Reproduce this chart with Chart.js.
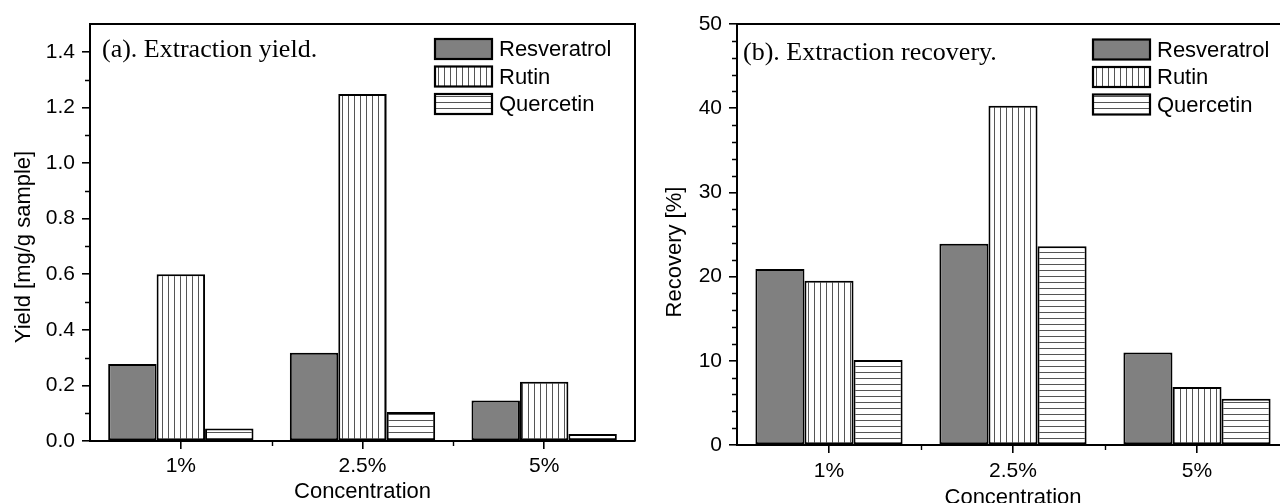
<!DOCTYPE html>
<html>
<head>
<meta charset="UTF-8">
<script src="https://cdn.jsdelivr.net/npm/chart.js@4.4.1/dist/chart.umd.min.js"></script>
<style>
 html,body{margin:0;padding:0;overflow:hidden;background:#fff}
 body{width:1280px;height:503px;position:relative}
 .pane{position:absolute;top:0}
</style>
</head>
<body>
<div class="pane" style="left:0"><canvas id="c_yield" width="640" height="505"></canvas></div>
<div class="pane" style="left:640px"><canvas id="c_recovery" width="660" height="511"></canvas></div>
<script>
// data
var categories = ['1%', '2.5%', '5%'];
var seriesNames = ['Resveratrol', 'Rutin', 'Quercetin'];

var yieldResveratrol = [0.277, 0.317, 0.146];
var yieldRutin       = [0.600, 1.248, 0.213];
var yieldQuercetin   = [0.045, 0.104, 0.025];

var recResveratrol = [20.9, 23.9, 11.0];
var recRutin       = [19.5, 40.3, 6.9];
var recQuercetin   = [10.1, 23.6, 5.5];

var yieldTicks = [0, 0.2, 0.4, 0.6, 0.8, 1.0, 1.2, 1.4];
var yieldMinor = [0.1, 0.3, 0.5, 0.7, 0.9, 1.1, 1.3];
var recTicks = [0, 10, 20, 30, 40, 50];
var recMinor = [2, 4, 6, 8, 12, 14, 16, 18, 22, 24, 26, 28, 32, 34, 36, 38, 42, 44, 46, 48];

var SANS = '"Liberation Sans", Arial, sans-serif';
var SERIF = '"Liberation Serif", "Times New Roman", serif';

function hatch(vertical) {
  var c = document.createElement('canvas');
  c.width = 6; c.height = 6;
  var g = c.getContext('2d');
  g.fillStyle = '#fff'; g.fillRect(0, 0, 6, 6);
  g.fillStyle = '#555';
  if (vertical) g.fillRect(0, 0, 1, 6); else g.fillRect(0, 0, 6, 1);
  return g.createPattern(c, 'repeat');
}
var vLines = hatch(true), hLines = hatch(false);
var fills = ['#808080', vLines, hLines];

// frame, minor ticks, note text, legend and y title
var decor = {
  id: 'decor',
  afterDraw: function (chart, args, o) {
    var ctx = chart.ctx, a = chart.chartArea, x = chart.scales.x, y = chart.scales.y;
    ctx.save();
    ctx.strokeStyle = '#000';
    ctx.lineWidth = 2;
    ctx.beginPath();
    ctx.moveTo(a.left, a.top); ctx.lineTo(a.right, a.top); ctx.lineTo(a.right, a.bottom);
    ctx.stroke();

    ctx.lineWidth = 1.4;
    ctx.beginPath();
    o.minor.forEach(function (v) {
      var py = Math.round(y.getPixelForValue(v)) + 0.5;
      ctx.moveTo(a.left - 5, py); ctx.lineTo(a.left, py);
    });
    for (var i = 0; i < categories.length - 1; i++) {
      var px = Math.round(x.getPixelForValue(i + 0.5)) + 0.5;
      ctx.moveTo(px, a.bottom); ctx.lineTo(px, a.bottom + 5);
    }
    ctx.stroke();

    ctx.fillStyle = '#000';
    ctx.font = '26px ' + SERIF;
    ctx.textAlign = 'left'; ctx.textBaseline = 'alphabetic';
    ctx.fillText(o.note, o.noteX, o.noteY);

    ctx.font = '22px ' + SANS;
    ctx.textBaseline = 'middle';
    chart.data.datasets.forEach(function (ds, k) {
      var bx = o.legX, by = o.legY + k * 27.5;
      ctx.fillStyle = ds.backgroundColor;
      ctx.fillRect(bx, by, 57, 20);
      ctx.lineWidth = 2.2;
      ctx.strokeRect(bx, by, 57, 20);
      ctx.fillStyle = '#000';
      ctx.fillText(ds.label, bx + 64, by + 11);
    });

    ctx.translate(o.titleX, o.titleY);
    ctx.rotate(-Math.PI / 2);
    ctx.textAlign = 'center';
    ctx.fillText(o.title, 0, 0);
    ctx.restore();
  }
};

function makeChart(id, cfg) {
  var sets = cfg.values.map(function (vals, k) {
    return {
      label: seriesNames[k], data: vals, backgroundColor: fills[k],
      borderColor: '#000', borderWidth: 2, borderSkipped: false,
      categoryPercentage: 0.8, barPercentage: 1
    };
  });
  return new Chart(document.getElementById(id), {
    type: 'bar',
    data: { labels: categories, datasets: sets },
    options: {
      responsive: false, animation: false, devicePixelRatio: 1,
      layout: { padding: { top: 24, right: cfg.padRight, left: 0, bottom: 0 } },
      plugins: { legend: { display: false }, tooltip: { enabled: false }, decor: cfg.decor },
      scales: {
        x: {
          grid: { offset: false, drawOnChartArea: false, tickLength: 8, tickColor: '#000', lineWidth: 1.6 },
          border: { color: '#000', width: 2 },
          ticks: { color: '#000', font: { family: SANS, size: 21 }, padding: cfg.xPad, maxRotation: 0 },
          title: { display: true, text: 'Concentration', color: '#000', font: { family: SANS, size: 22 }, padding: 0 },
          afterFit: function (s) { s.height = cfg.xH; }
        },
        y: {
          min: 0, max: cfg.max,
          grid: { drawOnChartArea: false, tickLength: 8, tickColor: '#000', lineWidth: 1.6 },
          border: { color: '#000', width: 2 },
          ticks: { color: '#000', font: { family: SANS, size: 21 }, padding: 7, callback: cfg.fmt },
          afterBuildTicks: function (s) { s.ticks = cfg.ticks.map(function (v) { return { value: v }; }); },
          afterFit: function (s) { s.width = cfg.yW; }
        }
      }
    },
    plugins: [decor]
  });
}

makeChart('c_yield', {
  values: [yieldResveratrol, yieldRutin, yieldQuercetin],
  max: 1.5, ticks: yieldTicks, fmt: function (v) { return Number(v).toFixed(1); },
  padRight: 5, xH: 64, yW: 90, xPad: 5,
  decor: { minor: yieldMinor, note: '(a). Extraction yield.', noteX: 102, noteY: 57,
           legX: 435, legY: 39, title: 'Yield [mg/g sample]', titleX: 24, titleY: 247 }
});

makeChart('c_recovery', {
  values: [recResveratrol, recRutin, recQuercetin],
  max: 50, ticks: recTicks, fmt: function (v) { return String(v); },
  padRight: 11, xH: 66, yW: 97, xPad: 6,
  decor: { minor: recMinor, note: '(b). Extraction recovery.', noteX: 103, noteY: 60,
           legX: 453, legY: 39.5, title: 'Recovery [%]', titleX: 35, titleY: 252 }
});
</script>
</body>
</html>
